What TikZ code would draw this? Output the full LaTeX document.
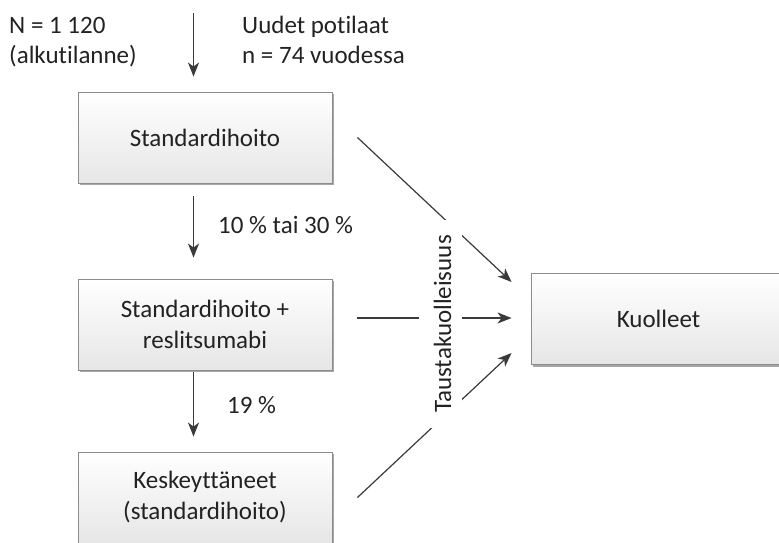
\documentclass[tikz,border=0pt]{standalone}
\usepackage{fontspec}
\setmainfont[Ligatures=NoCommon]{Carlito}
\usetikzlibrary{arrows.meta,shadows}
\definecolor{txt}{HTML}{222222}
\definecolor{ln}{HTML}{3A3A3A}
\definecolor{bd}{HTML}{8C8C8C}
\definecolor{boxbot}{HTML}{E6E6E6}
\begin{document}
\begin{tikzpicture}[x=1pt,y=-1pt,
  font=\fontsize{25}{30}\selectfont, text=txt,
  box/.style={draw=bd, line width=0.9pt, top color=white, bottom color=boxbot,
    minimum width=254pt, minimum height=91pt, align=center, inner sep=0pt,
    drop shadow={shadow xshift=1.8pt, shadow yshift=-2pt, opacity=0.35, fill=black}},
  arr/.style={draw=ln, line width=1.2pt, -{Stealth[length=14pt,width=11pt,inset=4pt]}},
  lbl/.style={inner sep=0pt, anchor=north west, align=left}]
\useasboundingbox (0,0) rectangle (779,543);
\clip (0,0) rectangle (779,543);

% boxes
\node[box] (b1) at (205,137.5) {Standardihoito};
\node[box] (b2) at (205,324.5) {Standardihoito +\\[1pt]reslitsumabi};
\node[box] (b3) at (205,497.5) {Keskeyttäneet\\[1pt](standardihoito)};
\node[box, minimum width=255pt] (k) at (658.5,319) {Kuolleet};

% free labels
\node[lbl] (n1) at (9,17) {N = 1 120\\(alkutilanne)};
\node[lbl] (n2) at (242,15.5) {Uudet potilaat\\n = 74 vuodessa};
\node[inner sep=0pt, anchor=base west] (p1) at (218,233) {10 \% tai 30 \%};
\node[inner sep=0pt, anchor=base west] (p2) at (227,413) {19 \%};

% vertical arrows
\coordinate (top) at (193.5,13);
\draw[arr, shorten >=15pt] (top) -- (b1.north -| top);
\draw[arr, shorten <=13pt, shorten >=21pt] (b1.south -| top) -- (b2.north -| top);
\draw[arr, shorten <=2pt, shorten >=15pt] (b2.south -| top) -- (b3.north -| top);

% arrows to Kuolleet
\draw[arr] ([xshift=25pt]b1.east) -- ([xshift=-19pt,yshift=37pt]k.west);
\draw[arr] ([xshift=25pt,yshift=6.5pt]b2.east) -- ([xshift=-19pt,yshift=1pt]k.west);
\draw[arr] ([xshift=25pt]b3.east) -- ([xshift=-19pt,yshift=-34pt]k.west);

% rotated label masking the connectors
\node[rotate=90, anchor=base, fill=white, inner xsep=15pt, inner ysep=0pt] (t)
  at (451,324) {\rule[-11pt]{0pt}{43pt}Taustakuolleisuus};
\end{tikzpicture}
\end{document}
